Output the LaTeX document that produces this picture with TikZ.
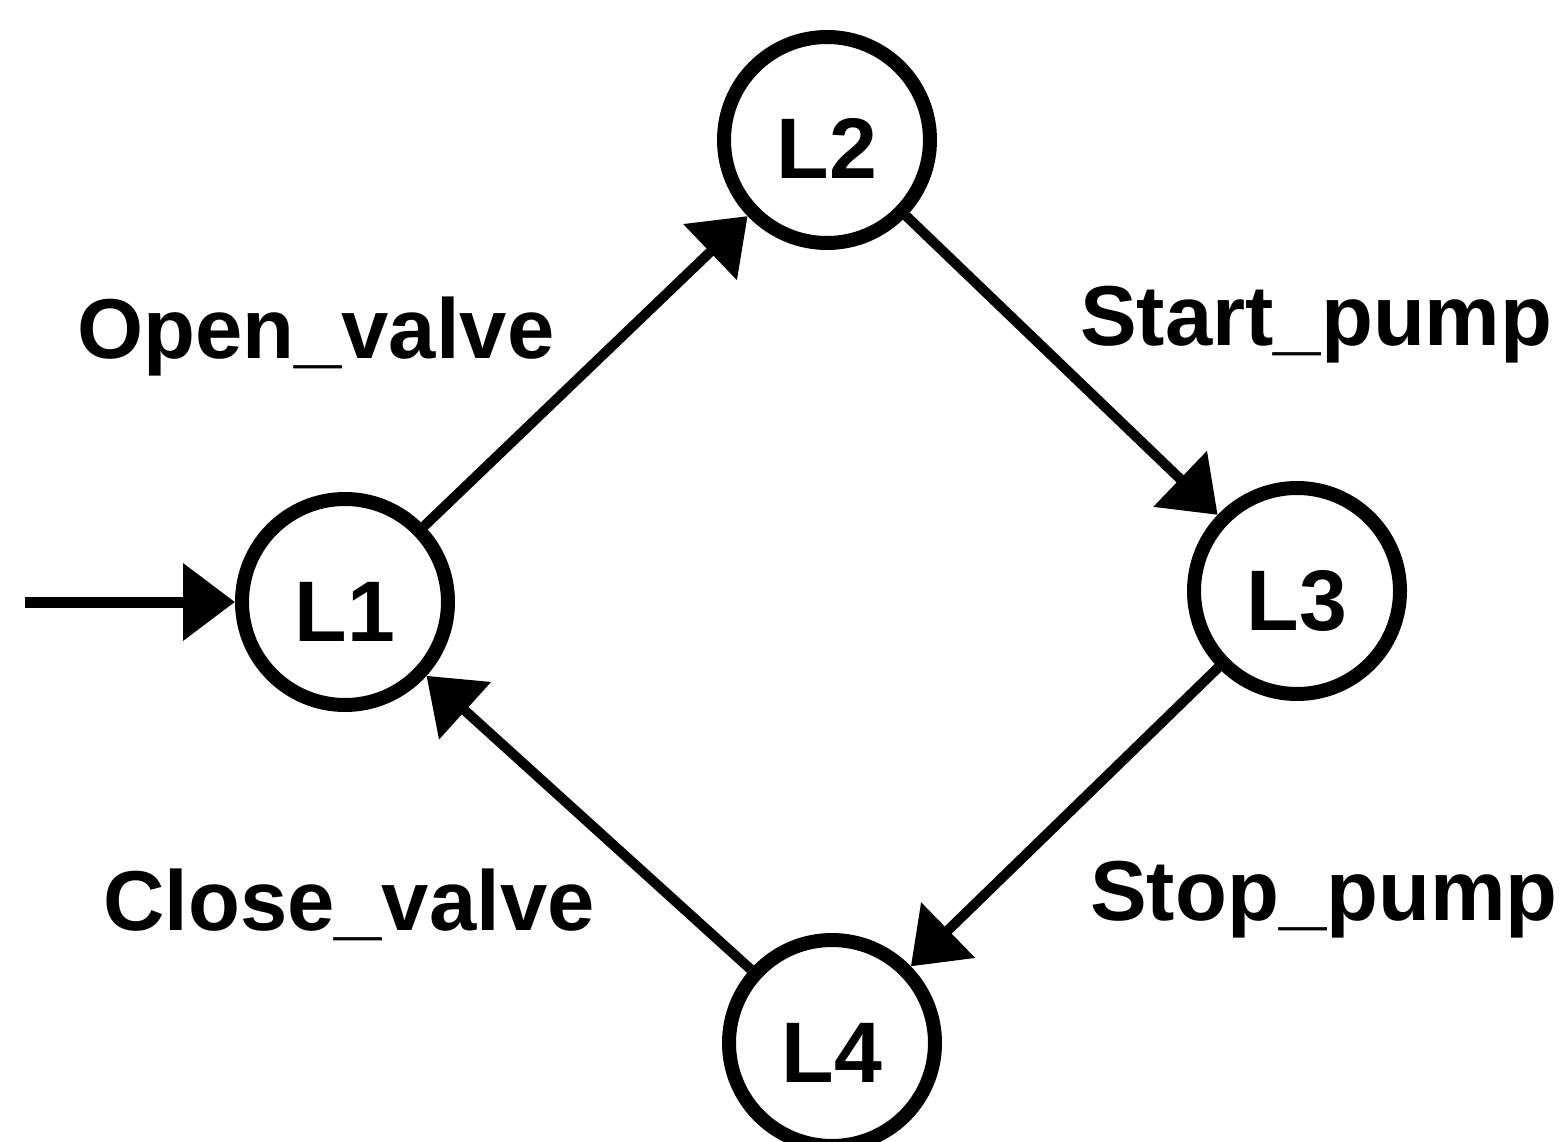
\documentclass[tikz,border=0pt]{standalone}
\usepackage{fontspec}
\setmainfont{Liberation Sans}
\usetikzlibrary{arrows.meta}
\begin{document}
\begin{tikzpicture}[x=1pt,y=-1pt,
  state/.style={circle,draw,line width=14pt,minimum size=206pt,inner sep=0pt,
    text height=78pt,text depth=0pt,
    font=\fontsize{86}{96}\selectfont\bfseries},
  trans/.style={line width=10pt,-{Triangle[length=52pt,width=75pt]}},
  lbl/.style={anchor=base west,inner sep=0pt,font=\fontsize{85}{95}\selectfont\bfseries}]
\clip (0,0) rectangle (1566,1142);
\fill[white] (0,0) rectangle (1566,1142);
\node[state] (L1) at (345,602) {L1};
\node[state] (L2) at (827,140) {L2};
\node[state] (L3) at (1297,591) {L3};
\node[state] (L4) at (832,1043) {L4};
\coordinate (init) at (25,602);
\draw[trans,line width=11pt] (init) -- (L1);
\draw[trans] (L1) -- (L2);
\draw[trans] (L2) -- (L3);
\draw[trans] (L3) -- (L4);
\draw[trans] (L4) -- (L1);
\node[lbl] (o) at (77,358) {Open\_valve};
\node[lbl] (s) at (1080,345) {Start\_pump};
\node[lbl] (c) at (103,930) {Close\_valve};
\node[lbl] (p) at (1090,920) {Stop\_pump};
\end{tikzpicture}
\end{document}
